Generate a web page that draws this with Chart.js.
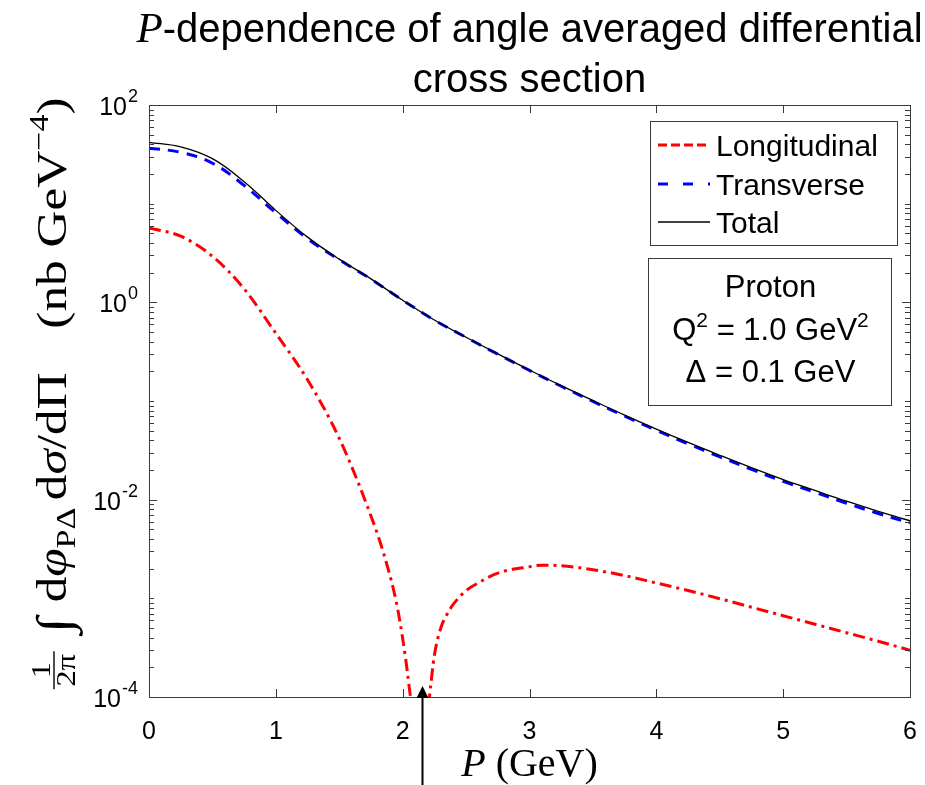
<!DOCTYPE html>
<html>
<head>
<meta charset="utf-8">
<script src="https://cdn.jsdelivr.net/npm/chart.js@4.4.1/dist/chart.umd.min.js"></script>
<style>
  html, body { margin: 0; padding: 0; background: #ffffff; }
  #wrap { width: 925px; height: 785px; position: relative; }
</style>
</head>
<body>
<div id="wrap"><canvas id="c" width="925" height="785"></canvas></div>
<script>
// ---------------- data ----------------
const pGrid = [0, 0.25, 0.5, 0.75, 1, 1.25, 1.5, 1.75, 2, 2.25, 2.5, 2.75, 3, 3.25, 3.5, 3.75, 4, 4.25, 4.5, 4.75, 5, 5.25, 5.5, 5.75, 6];
const totalValues = [41.9, 37.7, 28.6, 16.7, 8.55, 4.58, 2.74, 1.73, 1.05, 0.662, 0.443, 0.300, 0.206, 0.143, 0.101, 0.0719, 0.0519, 0.0380, 0.0282, 0.0211, 0.0160, 0.0124, 0.00964, 0.00761, 0.00611];
const transverseValues = [36.5, 33.1, 25.7, 15.3, 8.07, 4.42, 2.70, 1.72, 1.05, 0.661, 0.442, 0.298, 0.204, 0.141, 0.0989, 0.0702, 0.0505, 0.0368, 0.0272, 0.0203, 0.0153, 0.0119, 0.0092, 0.00724, 0.00581];
const pLongitudinal = [0, 0.25, 0.5, 0.75, 1, 1.25, 1.5, 1.75, 1.85, 1.95, 2.0, 2.05, 2.1, 2.15, 2.2, 2.23, 2.25, 2.3, 2.35, 2.4, 2.5, 2.6, 2.75, 3, 3.1, 3.25, 3.5, 3.75, 4, 4.25, 4.5, 4.75, 5, 5.25, 5.5, 5.75, 6];
const longitudinalValues = [5.67, 4.68, 2.93, 1.37, 0.485, 0.164, 0.0419, 0.00683, 0.00285, 0.000914, 0.000392, 0.000131, 0.00003, 0.000001, 0.00006, 0.000166, 0.000265, 0.000498, 0.00069, 0.000872, 0.001197, 0.001442, 0.0018, 0.00209, 0.00217, 0.00214, 0.00195, 0.0017, 0.00143, 0.0012, 0.000992, 0.000813, 0.000667, 0.000547, 0.000448, 0.000367, 0.000298];

const seriesNames = ['Longitudinal', 'Transverse', 'Total'];
const xTickValues = [0, 1, 2, 3, 4, 5, 6];
const yTickExponents = [2, 0, -2, -4];
const arrowP = 2.15;
const titleLine1Rest = '-dependence of angle averaged differential';
const titleLine2 = 'cross section';
const infoLines = ['Proton', 'Q^2 = 1.0 GeV^2', '\u0394 = 0.1 GeV'];

// ---------------- helpers ----------------
const SANS = '"Liberation Sans", Arial, Helvetica, sans-serif';
const SERIF = '"Liberation Serif", "Times New Roman", serif';
function toXY(xs, ys) { return xs.map((x, i) => ({ x: x, y: ys[i] })); }

function measurePieces(ctx, pieces) {
  let w = 0;
  for (const p of pieces) {
    if (p.gap !== undefined) { w += p.gap; continue; }
    ctx.font = p.font;
    if (p.frac) {
      w += Math.max(ctx.measureText(p.num).width, ctx.measureText(p.den).width) + 6;
      continue;
    }
    w += ctx.measureText(p.t).width;
  }
  return w;
}
function drawPieces(ctx, pieces, x, y) {
  let cx = x;
  ctx.textAlign = 'left';
  ctx.textBaseline = 'alphabetic';
  for (const p of pieces) {
    if (p.gap !== undefined) { cx += p.gap; continue; }
    ctx.font = p.font;
    if (p.frac) {
      const wn = ctx.measureText(p.num).width, wd = ctx.measureText(p.den).width;
      const fw = Math.max(wn, wd) + 6;
      const axis = y - p.axis;
      ctx.fillText(p.num, cx + (fw - wn) / 2, axis - 4);
      ctx.fillText(p.den, cx + (fw - wd) / 2, axis + p.denDrop);
      ctx.save();
      ctx.lineWidth = 1.4;
      ctx.beginPath(); ctx.moveTo(cx + 1, axis); ctx.lineTo(cx + fw - 1, axis); ctx.stroke();
      ctx.restore();
      cx += fw;
      continue;
    }
    ctx.fillText(p.t, cx, y + (p.dy || 0));
    cx += ctx.measureText(p.t).width;
  }
  return cx - x;
}
function superPieces(text, big, small, rise) {
  const out = [];
  const re = /\^(\S)/g;
  let last = 0, m;
  while ((m = re.exec(text)) !== null) {
    if (m.index > last) out.push({ t: text.slice(last, m.index), font: big });
    out.push({ t: m[1], font: small, dy: -rise });
    last = m.index + 2;
  }
  if (last < text.length) out.push({ t: text.slice(last), font: big });
  return out;
}

// ---------------- decoration plugin ----------------
const decor = {
  id: 'decor',
  beforeDraw(chart) {
    const ctx = chart.ctx;
    ctx.save();
    ctx.fillStyle = '#ffffff';
    ctx.fillRect(0, 0, chart.width, chart.height);
    ctx.restore();
  },
  afterDatasetsDraw(chart) {
    const ctx = chart.ctx;
    const a = chart.chartArea;
    const xs = chart.scales.x, ys = chart.scales.y;
    ctx.save();

    // axes box
    ctx.strokeStyle = '#3a3a3a';
    ctx.lineWidth = 1;
    ctx.strokeRect(Math.round(a.left) + 0.5, Math.round(a.top) + 0.5, Math.round(a.right - a.left), Math.round(a.bottom - a.top));

    // x ticks (inward, bottom & top)
    ctx.beginPath();
    for (const v of xTickValues) {
      const px = Math.round(xs.getPixelForValue(v)) + 0.5;
      ctx.moveTo(px, a.bottom); ctx.lineTo(px, a.bottom - 8);
      ctx.moveTo(px, a.top); ctx.lineTo(px, a.top + 8);
    }
    // y ticks (log major + minor, left & right)
    for (let e = -4; e <= 2; e++) {
      for (let k = 1; k <= 9; k++) {
        const v = k * Math.pow(10, e);
        if (v > 100.0001) break;
        const py = Math.round(ys.getPixelForValue(v)) + 0.5;
        const major = (k === 1 && e % 2 === 0);
        const len = major ? 8 : 5;
        ctx.moveTo(a.left, py); ctx.lineTo(a.left + len, py);
        ctx.moveTo(a.right, py); ctx.lineTo(a.right - len, py);
      }
    }
    ctx.stroke();

    // y tick labels 10^n
    ctx.fillStyle = '#000000';
    for (const e of yTickExponents) {
      const py = ys.getPixelForValue(Math.pow(10, e));
      const sup = String(e);
      ctx.font = '18px ' + SANS;
      const ws = ctx.measureText(sup).width;
      const rightEdge = a.left - 11;
      ctx.textAlign = 'left';
      ctx.textBaseline = 'alphabetic';
      ctx.fillText(sup, rightEdge - ws, py - 3);
      ctx.font = '25px ' + SANS;
      ctx.textAlign = 'right';
      ctx.fillText('10', rightEdge - ws - 1, py + 10);
    }

    // legend box
    const lx = 650, ly = 121, lw = 247, lh = 124;
    ctx.fillStyle = '#ffffff';
    ctx.fillRect(lx, ly, lw, lh);
    ctx.strokeStyle = '#3a3a3a';
    ctx.lineWidth = 1;
    ctx.strokeRect(lx + 0.5, ly + 0.5, lw, lh);
    const rowBase = [156, 195, 233];
    chart.data.datasets.forEach((ds, i) => {
      const yb = rowBase[i];
      const yl = yb - 11;
      ctx.save();
      ctx.strokeStyle = ds.borderColor;
      ctx.lineWidth = ds.borderWidth;
      ctx.setLineDash(ds.legendDash || []);
      ctx.beginPath(); ctx.moveTo(658, yl); ctx.lineTo(710, yl); ctx.stroke();
      ctx.restore();
      ctx.fillStyle = '#000000';
      ctx.font = '30px ' + SANS;
      ctx.textAlign = 'left';
      ctx.textBaseline = 'alphabetic';
      ctx.fillText(ds.label, 716, yb);
    });

    // info box
    const bx = 648, by = 258, bw = 243, bh = 147;
    ctx.fillStyle = '#ffffff';
    ctx.fillRect(bx, by, bw, bh);
    ctx.strokeRect(bx + 0.5, by + 0.5, bw, bh);
    ctx.fillStyle = '#000000';
    const infoBase = [297, 340, 382];
    const big = '31px ' + SANS, small = '21px ' + SANS;
    infoLines.forEach((line, i) => {
      const pcs = superPieces(line, big, small, 13);
      const w = measurePieces(ctx, pcs);
      drawPieces(ctx, pcs, bx + bw / 2 - w / 2 + 1, infoBase[i]);
    });
    ctx.restore();
  },
  afterDraw(chart) {
    const ctx = chart.ctx;
    const a = chart.chartArea;
    const xs = chart.scales.x;
    const cxm = (a.left + a.right) / 2;
    ctx.save();
    ctx.fillStyle = '#000000';
    ctx.strokeStyle = '#000000';

    // title
    const t1 = [
      { t: 'P', font: 'italic 43px ' + SERIF },
      { t: titleLine1Rest, font: '40px ' + SANS }
    ];
    const w1 = measurePieces(ctx, t1);
    drawPieces(ctx, t1, cxm - w1 / 2, 42);
    const t2 = [{ t: titleLine2, font: '40px ' + SANS }];
    const w2 = measurePieces(ctx, t2);
    drawPieces(ctx, t2, cxm - w2 / 2, 92);

    // x axis title
    const xt = [
      { t: 'P', font: 'italic 40px ' + SERIF },
      { gap: 10 },
      { t: '(GeV)', font: '40px ' + SERIF }
    ];
    const wx = measurePieces(ctx, xt);
    drawPieces(ctx, xt, cxm - wx / 2, 776);

    // y axis title (rotated)
    const F = '42px ' + SERIF, FI = 'italic 42px ' + SERIF, S = '28px ' + SERIF;
    const yt = [
      { frac: true, num: '1', den: '2\u03c0', font: '27px ' + SERIF, axis: 12, denDrop: 21 },
      { gap: 14 },
      { t: '\u222b', font: '48px ' + SERIF, dy: 4 },
      { gap: 12 },
      { t: 'd', font: F }, { t: '\u03c6', font: FI },
      { t: 'P\u0394', font: S, dy: 9 },
      { gap: 6 },
      { t: 'd', font: F }, { t: '\u03c3', font: FI }, { t: '/', font: F },
      { t: 'd', font: F }, { t: '\u03a0', font: F },
      { gap: 36 },
      { t: '(nb GeV', font: F },
      { t: '\u22124', font: S, dy: -18 },
      { t: ')', font: F }
    ];
    const wy = measurePieces(ctx, yt);
    const targetLen = 593;
    const stretch = Math.min(1.25, Math.max(1, targetLen / wy));
    ctx.save();
    ctx.translate(66, 394);
    ctx.rotate(-Math.PI / 2);
    ctx.scale(stretch, 1);
    drawPieces(ctx, yt, -wy / 2, 0);
    ctx.restore();

    // arrow marking the zero of the longitudinal part
    const ax = Math.round(xs.getPixelForValue(arrowP)) + 0.5;
    ctx.lineWidth = 2;
    ctx.beginPath(); ctx.moveTo(ax, chart.height); ctx.lineTo(ax, a.bottom - 2); ctx.stroke();
    ctx.beginPath();
    ctx.moveTo(ax, a.bottom - 11);
    ctx.lineTo(ax - 6, a.bottom + 1);
    ctx.lineTo(ax + 6, a.bottom + 1);
    ctx.closePath(); ctx.fill();
    ctx.restore();
  }
};

// ---------------- chart ----------------
const ctx = document.getElementById('c').getContext('2d');
new Chart(ctx, {
  type: 'line',
  data: {
    datasets: [
      {
        label: seriesNames[0],
        data: toXY(pLongitudinal, longitudinalValues),
        borderColor: '#ff0000', borderWidth: 3,
        borderDash: [12, 5, 3, 5], legendDash: [9, 4, 9, 4],
        pointRadius: 0, fill: false, cubicInterpolationMode: 'monotone', order: 2
      },
      {
        label: seriesNames[1],
        data: toXY(pGrid, transverseValues),
        borderColor: '#0000ff', borderWidth: 3,
        borderDash: [11, 8], legendDash: [10, 15],
        pointRadius: 0, fill: false, tension: 0.4, order: 1
      },
      {
        label: seriesNames[2],
        data: toXY(pGrid, totalValues),
        borderColor: '#000000', borderWidth: 1.3,
        pointRadius: 0, fill: false, tension: 0.4, order: 0
      }
    ]
  },
  options: {
    responsive: false,
    animation: false,
    devicePixelRatio: 1,
    layout: { padding: { top: 105, right: 15, left: 0, bottom: 0 } },
    plugins: { legend: { display: false }, tooltip: { enabled: false }, title: { display: false } },
    scales: {
      x: {
        type: 'linear', min: 0, max: 6,
        grid: { display: false, drawTicks: false },
        border: { display: false },
        afterBuildTicks(scale) { scale.ticks = xTickValues.map(v => ({ value: v })); },
        ticks: {
          autoSkip: false, maxRotation: 0, padding: 20, color: '#000000',
          font: { family: SANS, size: 25 },
          callback: (v) => String(v)
        },
        afterFit(scale) { scale.height = 88; scale.paddingLeft = 0; scale.paddingRight = 0; }
      },
      y: {
        type: 'logarithmic', min: 1e-4, max: 100,
        grid: { display: false, drawTicks: false },
        border: { display: false },
        ticks: { display: false },
        afterFit(scale) { scale.width = 149; scale.paddingTop = 0; scale.paddingBottom = 0; }
      }
    }
  },
  plugins: [decor]
});
</script>
</body>
</html>
